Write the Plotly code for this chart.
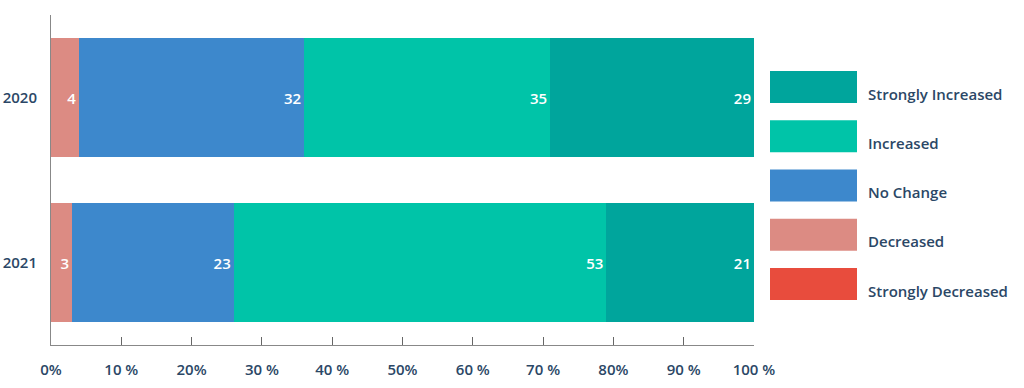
import plotly.graph_objects as go

years = ["2020", "2021"]
series_names = ["Strongly Decreased", "Decreased", "No Change", "Increased", "Strongly Increased"]
strongly_decreased = [0, 0]
decreased = [4, 3]
no_change = [32, 23]
increased = [35, 53]
strongly_increased = [29, 21]
tick_values = [0, 10, 20, 30, 40, 50, 60, 70, 80, 90, 100]
tick_labels = ["0%", "10 %", "20%", "30 %", "40 %", "50%", "60 %", "70 %", "80%", "90 %", "100 %"]

colors = {
    "Strongly Decreased": "#E84C3D",
    "Decreased": "#DC8B83",
    "No Change": "#3D88CC",
    "Increased": "#00C4A8",
    "Strongly Increased": "#00A59C",
}
values = {
    "Strongly Decreased": strongly_decreased,
    "Decreased": decreased,
    "No Change": no_change,
    "Increased": increased,
    "Strongly Increased": strongly_increased,
}

FONT = "Open Sans"
TEXT_COLOR = "#2B4766"

fig = go.Figure()
for name in series_names:
    vals = values[name]
    fig.add_trace(go.Bar(
        y=years, x=vals, orientation="h", name=name,
        marker=dict(color=colors[name], line=dict(width=0)),
        text=[str(v) if v else "" for v in vals],
        textposition="inside", insidetextanchor="end",
        textfont=dict(color="white", size=15, family=FONT, weight=600),
        width=0.72, hoverinfo="skip", showlegend=False,
    ))

W, H = 1024, 388
ml, mr, mt, mb = 51, 270, 15, 43
pw, ph = W - ml - mr, H - mt - mb

def px_to_paper_x(x):
    return (x - ml) / pw

def px_to_paper_y(y):
    return (H - mb - y) / ph

shapes = []
annotations = []
legend_order = ["Strongly Increased", "Increased", "No Change", "Decreased", "Strongly Decreased"]
for i, name in enumerate(legend_order):
    top = 71 + i * 49.25
    shapes.append(dict(
        type="rect", xref="paper", yref="paper",
        x0=px_to_paper_x(770), x1=px_to_paper_x(857),
        y0=px_to_paper_y(top + 32), y1=px_to_paper_y(top),
        fillcolor=colors[name], line=dict(width=0),
    ))
    annotations.append(dict(
        xref="paper", yref="paper", x=px_to_paper_x(866), y=px_to_paper_y(top + 22.5),
        text=name, showarrow=False, xanchor="left", yanchor="middle",
        font=dict(family=FONT, size=15, color=TEXT_COLOR, weight=600),
    ))

fig.update_layout(
    width=W, height=H,
    margin=dict(l=ml, r=mr, t=mt, b=mb, pad=0, autoexpand=False),
    barmode="stack",
    paper_bgcolor="white", plot_bgcolor="white",
    shapes=shapes, annotations=annotations,
    showlegend=False,
    xaxis=dict(
        range=[0, 100], tickvals=tick_values, ticktext=tick_labels,
        ticks="inside", ticklen=8, tickcolor="#666666", tickwidth=1,
        showline=True, linecolor="#888888", linewidth=1,
        showgrid=False, zeroline=False, fixedrange=True, automargin=False,
        tickfont=dict(family=FONT, size=15, color=TEXT_COLOR, weight=600),
        ticklabelstandoff=11,
    ),
    yaxis=dict(
        categoryorder="array", categoryarray=years,
        range=[1.5, -0.5],
        showline=True, linecolor="#888888", linewidth=1,
        ticks="", showgrid=False, zeroline=False, fixedrange=True, automargin=False,
        tickfont=dict(family=FONT, size=15, color=TEXT_COLOR, weight=600),
        ticklabelstandoff=10,
    ),
)

fig.write_html("out.html")
